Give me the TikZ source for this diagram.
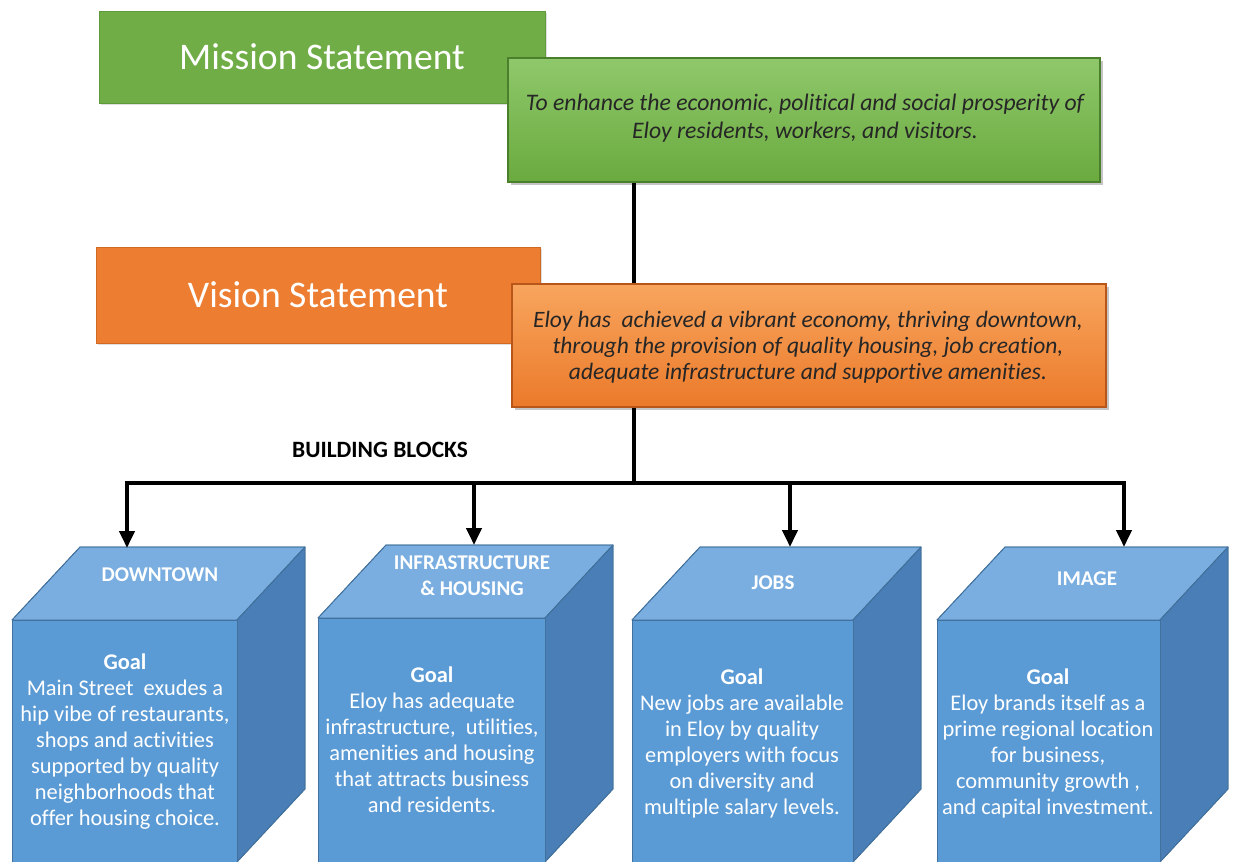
\documentclass[tikz,border=0pt]{standalone}
\usepackage{fontspec}
\setmainfont{Carlito}[Ligatures={NoCommon,TeX}]
\usetikzlibrary{arrows.meta,shadows}
\definecolor{mgreen}{HTML}{70AD47}
\definecolor{mgreenedge}{HTML}{5E9A3A}
\definecolor{mgreentop}{HTML}{8FC86B}
\definecolor{mgreenbot}{HTML}{6AAA3E}
\definecolor{mgreenline}{HTML}{4A7F2C}
\definecolor{vorange}{HTML}{ED7D31}
\definecolor{vorangeedge}{HTML}{D06A22}
\definecolor{vorangetop}{HTML}{F8A55E}
\definecolor{vorangebot}{HTML}{EB7A2A}
\definecolor{vorangeline}{HTML}{B8561A}
\definecolor{cfront}{HTML}{5B9BD5}
\definecolor{ctop}{HTML}{7AAEE0}
\definecolor{cside}{HTML}{4A7EB6}
\definecolor{cedge}{HTML}{41719C}
\tikzset{
  labelbox/.style={rectangle, inner sep=0pt, text=white, font=\fontsize{37.6}{40}\selectfont,
    drop shadow={opacity=0.25, shadow xshift=2pt, shadow yshift=-2pt}},
  textbox/.style={rectangle, inner sep=0pt, line width=1.2pt,
    drop shadow={opacity=0.45, shadow xshift=3pt, shadow yshift=-3pt}},
  stmt/.style={align=center, font=\itshape\fontsize{23.7}{28}\selectfont, text=black!85},
  connector/.style={line width=4pt, black},
  arrowline/.style={line width=4pt, black, -{Triangle[width=15pt,length=17pt]}},
  headtext/.style={align=center, text=white, font=\bfseries\fontsize{21}{26}\selectfont},
  goaltext/.style={align=center, text=white, font=\fontsize{22.4}{26}\selectfont},
  cubeface/.style={draw=cedge, line width=0.8pt, line join=round}
}
\newcommand\blockcube[4]{% left, width, top, depth-x
  \fill[cubeface, fill=ctop] (#1,#3) -- (#1+#4,#3-73) -- (#1+#2+#4,#3-73) -- (#1+#2,#3) -- cycle;
  \fill[cubeface, fill=cside] (#1+#2,#3) -- (#1+#2+#4,#3-73) -- (#1+#2+#4,862-73) -- (#1+#2,862) -- cycle;
  \fill[cubeface, fill=cfront] (#1,#3) rectangle (#1+#2,862);
  \draw[cubeface] (#1,#3) -- (#1+#4,#3-73) -- (#1+#2+#4,#3-73) -- (#1+#2+#4,862-73) -- (#1+#2,862);
  \draw[cubeface] (#1+#2,#3) -- (#1+#2+#4,#3-73);
  \draw[cubeface] (#1,862) -- (#1,#3) -- (#1+#2,#3) -- (#1+#2,862);
}
\begin{document}
\begin{tikzpicture}[x=1pt,y=-1pt]
\useasboundingbox (0,0) rectangle (1235,862);
\fill[white] (0,0) rectangle (1235,862);

% trunk coordinates
\coordinate (trunk) at (634,0);
\coordinate (bus) at (634,483);
\coordinate (busL) at (127,483);
\coordinate (busR) at (1124,483);

% mission
\node[labelbox, fill=mgreen, draw=mgreenedge, line width=0.8pt, minimum width=446pt, minimum height=92pt] (ml) at (322,57) {Mission Statement};
\node[textbox, draw=mgreenline, top color=mgreentop, bottom color=mgreenbot, minimum width=592pt, minimum height=124pt] (mt) at (804,120) {};
\node[stmt] (mtext) at (805,118) {To enhance the economic, political and social prosperity of\\Eloy residents, workers, and visitors.};

% vision
\draw[connector] (mt.south -| trunk) -- (634,290);
\node[labelbox, fill=vorange, draw=vorangeedge, line width=0.8pt, minimum width=444pt, minimum height=96pt] (vl) at (318,295) {Vision Statement};
\node[textbox, draw=vorangeline, top color=vorangetop, bottom color=vorangebot, minimum width=594pt, minimum height=123pt] (vt) at (809,345.5) {};
\node[stmt, font=\itshape\fontsize{23.5}{26}\selectfont] (vtext) at (808,347) {Eloy has\ \ achieved a vibrant economy, thriving downtown,\\through the provision of quality housing, job creation,\\adequate infrastructure and supportive amenities.};

% building blocks label
\node[font=\bfseries\fontsize{23.4}{26}\selectfont, text=black] (bb) at (380,450) {BUILDING BLOCKS};

% cubes
\blockcube{12}{225}{620}{68}
\blockcube{318}{227}{618}{68}
\blockcube{632}{221}{620}{68}
\blockcube{937}{223}{620}{68}

\coordinate (c1) at (127,548);
\coordinate (c2) at (474,545);
\coordinate (c3) at (790,547);
\coordinate (c4) at (1124,547);

% connectors
\draw[connector] (vt.south -| trunk) -- (bus);
\draw[connector, line cap=rect] (busL) -- (busR);
\draw[arrowline] (busL) -- (c1);
\draw[arrowline] (bus -| c2) -- (c2);
\draw[arrowline] (bus -| c3) -- (c3);
\draw[arrowline] (busR) -- (c4);

% headers
\node[headtext] (h1) at (160,575) {DOWNTOWN};
\node[headtext] (h2) at (472,576) {INFRASTRUCTURE\\\& HOUSING};
\node[headtext] (h3) at (773,583) {JOBS};
\node[headtext] (h4) at (1087,579) {IMAGE};

% goals
\node[goaltext] (g1) at (125,742) {\textbf{Goal}\\Main Street\ \ exudes a\\hip vibe of restaurants,\\shops and activities\\supported by quality\\neighborhoods that\\offer housing choice.};
\node[goaltext] (g2) at (432,740) {\textbf{Goal}\\Eloy has adequate\\infrastructure,\ \ utilities,\\amenities and housing\\that attracts business\\and residents.};
\node[goaltext] (g3) at (742,743) {\textbf{Goal}\\New jobs are available\\in Eloy by quality\\employers with focus\\on diversity and\\multiple salary levels.};
\node[goaltext] (g4) at (1048,743) {\textbf{Goal}\\Eloy brands itself as a\\prime regional location\\for business,\\community growth ,\\and capital investment.};
\end{tikzpicture}
\end{document}
